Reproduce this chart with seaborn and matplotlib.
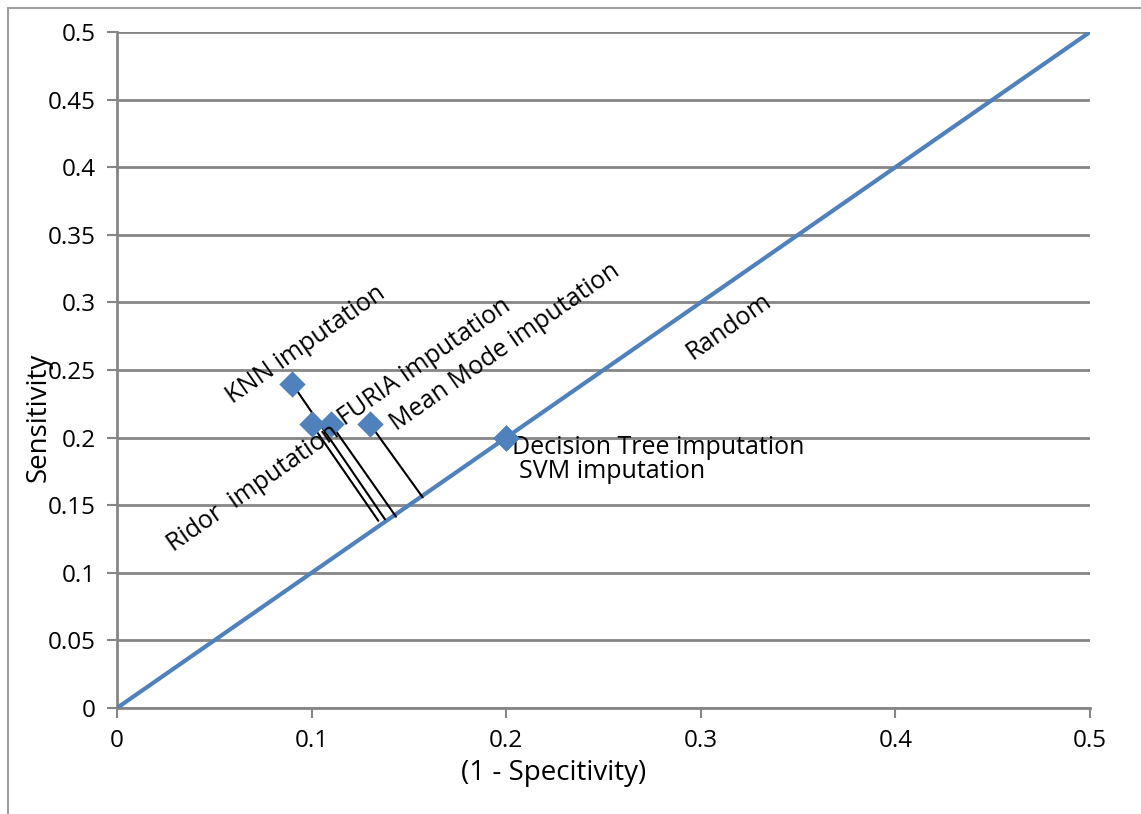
import matplotlib
matplotlib.use('Agg')
import matplotlib.pyplot as plt
import pandas as pd
import seaborn as sns
from matplotlib.lines import Line2D

# data
methods = ['KNN imputation', 'Ridor  imputation', 'FURIA imputation',
           'Mean Mode imputation', 'Decision Tree imputation', 'SVM imputation']
fpr = [0.09, 0.10, 0.11, 0.13, 0.20, 0.20]
tpr = [0.24, 0.21, 0.21, 0.21, 0.20, 0.20]
random_x = [0, 0.5]
random_y = [0, 0.5]
ticks_x = [0, 0.1, 0.2, 0.3, 0.4, 0.5]
ticks_y = [0, 0.05, 0.1, 0.15, 0.2, 0.25, 0.3, 0.35, 0.4, 0.45, 0.5]

df = pd.DataFrame({'method': methods, 'fpr': fpr, 'tpr': tpr})
df_rand = pd.DataFrame({'x': random_x, 'y': random_y})

sns.set_style('white')
plt.rcParams['font.family'] = ['Open Sans', 'DejaVu Sans']
plt.rcParams['text.color'] = 'black'
plt.rcParams['axes.labelcolor'] = 'black'

blue = '#4F81BD'
grey = '#868686'
fs = 18

fig = plt.figure(figsize=(11.41, 8.14), dpi=100)
ax = fig.add_axes([0.1025, 0.1302, 0.8528, 0.8305])

sns.lineplot(data=df_rand, x='x', y='y', color=blue, linewidth=3, ax=ax, zorder=3)
sns.scatterplot(data=df, x='fpr', y='tpr', marker='D', s=180, color=blue,
                edgecolor=blue, linewidth=0, ax=ax, zorder=5)

# leader lines
leaders = {'KNN imputation': (0.1377, 0.1396), 'Ridor  imputation': (0.1343, 0.1385),
           'FURIA imputation': (0.1434, 0.1415), 'Mean Mode imputation': (0.1571, 0.1558)}
for m, x, y in zip(methods, fpr, tpr):
    if m in leaders:
        ex, ey = leaders[m]
        ax.plot([x, ex], [y, ey], color='black', linewidth=1.5, zorder=4)

# rotated labels
rot = {'KNN imputation': (0.0971, 0.2685), 'Ridor  imputation': (0.0699, 0.1627),
       'FURIA imputation': (0.1583, 0.2559), 'Mean Mode imputation': (0.1994, 0.267)}
for m, (tx, ty) in rot.items():
    ax.text(tx, ty, m, rotation=35, rotation_mode='anchor', ha='center', va='center',
            fontsize=fs, zorder=6)
ax.text(0.3145, 0.2818, 'Random', rotation=35, rotation_mode='anchor',
        ha='center', va='center', fontsize=fs)
ax.text(0.203, 0.193, 'Decision Tree imputation', ha='left', va='center', fontsize=fs)
ax.text(0.2066, 0.1753, 'SVM imputation', ha='left', va='center', fontsize=fs)

ax.set_xlim(0, 0.5)
ax.set_ylim(0, 0.5)
ax.set_xticks(ticks_x)
ax.set_xticklabels([f'{t:g}' for t in ticks_x])
ax.set_yticks(ticks_y)
ax.set_yticklabels([f'{t:g}' for t in ticks_y])
ax.yaxis.grid(True, color=grey, linewidth=2)
ax.set_axisbelow(True)
ax.tick_params(axis='both', labelsize=17.5, length=7, width=1.5, color=grey,
               labelcolor='black', direction='out', left=True, bottom=True, pad=8)
for s in ['top', 'right']:
    ax.spines[s].set_visible(False)
for s in ['left', 'bottom']:
    ax.spines[s].set_color(grey)
    ax.spines[s].set_linewidth(2)

ax.set_xlabel('(1 - Specitivity)', fontsize=20)
ax.xaxis.set_label_coords(0.449, -0.075)
ax.set_ylabel('Sensitivity', fontsize=20)
ax.yaxis.set_label_coords(-0.066, 0.43)

# outer frame of the chart area
fig.add_artist(Line2D([8 / 1141, 8 / 1141], [0, 1 - 8 / 814], transform=fig.transFigure,
                      color='#A0A0A0', linewidth=1.5))
fig.add_artist(Line2D([8 / 1141, 1], [1 - 8 / 814, 1 - 8 / 814], transform=fig.transFigure,
                      color='#A0A0A0', linewidth=1.5))

fig.savefig('out.png', dpi=100)
